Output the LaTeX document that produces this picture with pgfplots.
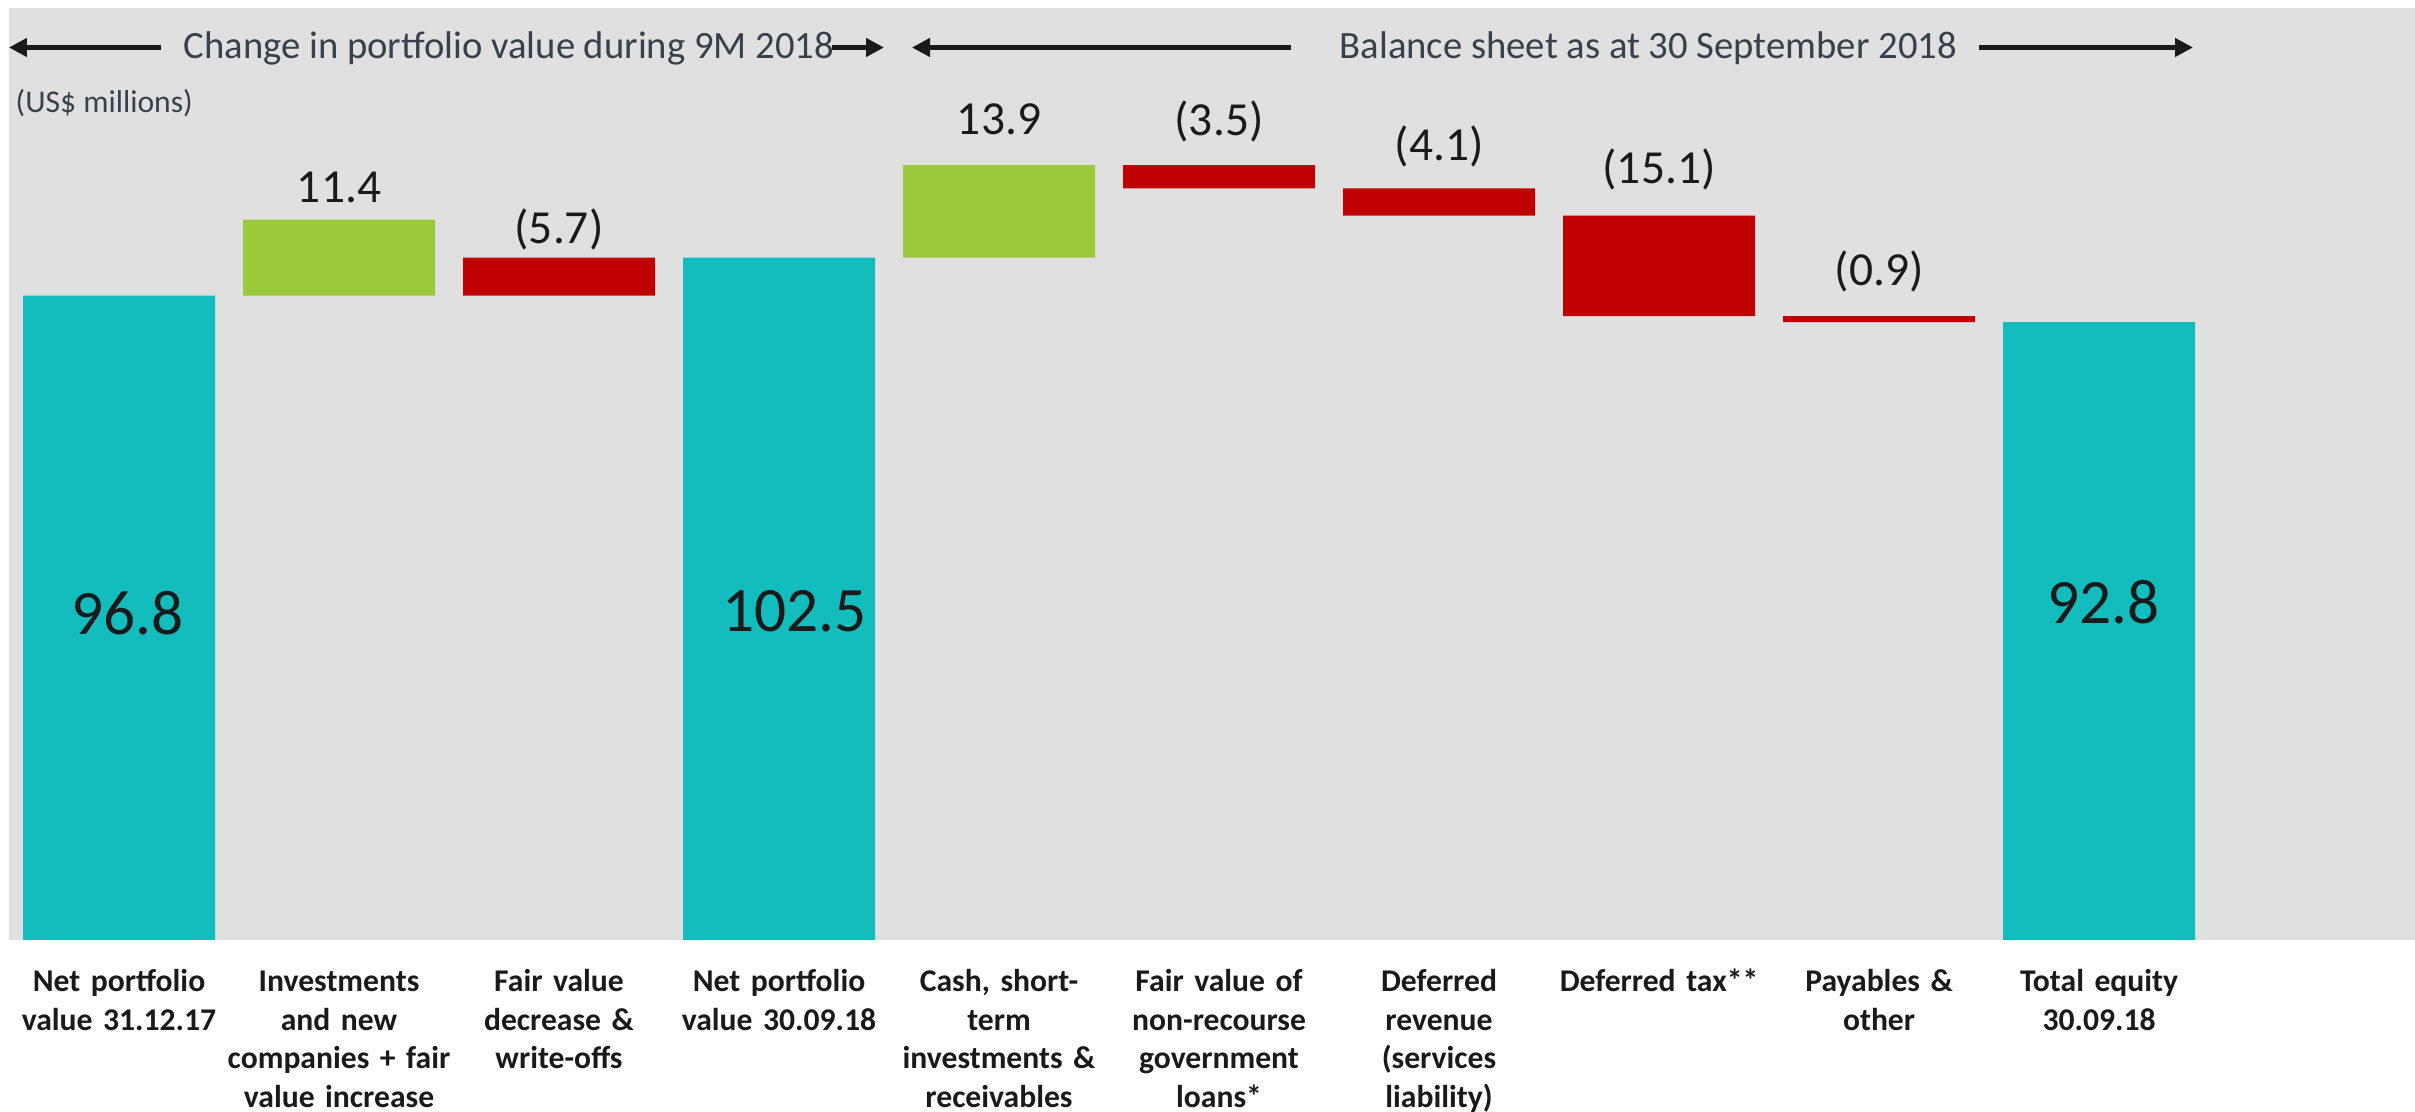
\documentclass[border=0pt]{standalone}
\usepackage{fontspec}
\setmainfont{Carlito}
\usepackage{pgfplots}
\pgfplotsset{compat=1.18}
\usepackage{pgfplotstable}
\usetikzlibrary{arrows.meta}
\definecolor{bggray}{RGB}{224,224,224}
\definecolor{wfteal}{RGB}{19,188,189}
\definecolor{wfgreen}{RGB}{154,202,60}
\definecolor{wfred}{RGB}{192,0,0}
\definecolor{hdr}{RGB}{55,65,75}
\definecolor{txt}{RGB}{26,26,26}
\tikzset{
  vlab/.style={font=\fontsize{13.5}{16}\selectfont, text=txt},
  ilab/.style={font=\fontsize{18}{22}\selectfont, text=txt},
  hdrarrow/.style={line width=0.055cm, draw=txt, -{Triangle[length=0.18cm,width=0.18cm]}},
}

\pgfplotstableread{
x base total up down
0 0 96.8 0 0
1 96.8 0 11.4 0
2 96.8 0 0 5.7
3 0 102.5 0 0
4 102.5 0 13.9 0
5 112.9 0 0 3.5
6 108.8 0 0 4.1
7 93.7 0 0 15.1
8 92.8 0 0 0.9
9 0 92.8 0 0
}\wfdata

\begin{document}
\begin{tikzpicture}
\begin{axis}[
  at={(0.09cm,1.72cm)}, anchor=south west,
  scale only axis, width=24.06cm, height=9.32cm,
  xmin=-0.5, xmax=10.436, ymin=0, ymax=140,
  ybar stacked, bar width=1.92cm,
  axis line style={draw=none},
  axis background/.style={fill=bggray},
  ytick=\empty,
  xtick={0,1,2,3,4,5,6,7,8,9},
  major tick length=0pt,
  xticklabels={
    {Net portfolio\\value 31.12.17},
    {Investments\\and new\\companies + fair\\value increase},
    {Fair value\\decrease \&\\write-offs},
    {Net portfolio\\value 30.09.18},
    {Cash, short-\\term\\investments \&\\receivables},
    {Fair value of\\non-recourse\\government\\loans*},
    {Deferred\\revenue\\(services\\liability)},
    {Deferred tax**},
    {Payables \&\\other},
    {Total equity\\30.09.18}},
  xticklabel style={text width=3.5cm, align=center, anchor=base, yshift=-0.52cm,
    font=\bfseries\fontsize{9}{10.95}\selectfont, text=txt, inner sep=0pt},
  clip=false,
]
\addplot[draw=none, fill=none] table[x=x,y=base]{\wfdata};
\addplot[draw=none, fill=wfteal] table[x=x,y=total]{\wfdata};
\addplot[draw=none, fill=wfgreen] table[x=x,y=up]{\wfdata};
\addplot[draw=none, fill=wfred] table[x=x,y=down]{\wfdata};

\node[vlab] at (axis cs:1,113.0) {11.4};
\node[vlab] at (axis cs:2,106.7) {(5.7)};
\node[vlab] at (axis cs:4,123.3) {13.9};
\node[vlab] at (axis cs:5,123.0) {(3.5)};
\node[vlab] at (axis cs:6,119.2) {(4.1)};
\node[vlab] at (axis cs:7,115.8) {(15.1)};
\node[vlab] at (axis cs:8,100.5) {(0.9)};
\coordinate (i0) at (axis cs:0.04,49.1);
\coordinate (i3) at (axis cs:3.07,49.4);
\coordinate (i9) at (axis cs:9.02,50.75);
\end{axis}
\node[ilab] at (i0) {96.8};
\node[ilab] at (i3) {102.5};
\node[ilab] at (i9) {92.8};

\draw[hdrarrow] (1.61cm,10.645cm) -- (0.09cm,10.645cm);
\draw[hdrarrow] (8.32cm,10.645cm) -- (8.84cm,10.645cm);
\draw[hdrarrow] (12.91cm,10.645cm) -- (9.12cm,10.645cm);
\draw[hdrarrow] (19.79cm,10.645cm) -- (21.93cm,10.645cm);
\node[anchor=base west, inner sep=0pt, text=hdr, font=\fontsize{11}{13}\selectfont] at (1.83cm,10.53cm) {Change in portfolio value during 9M 2018};
\node[anchor=base west, inner sep=0pt, text=hdr, font=\fontsize{11}{13}\selectfont] at (13.39cm,10.53cm) {Balance sheet as at 30 September 2018};
\node[anchor=base west, inner sep=0pt, text=hdr, font=\fontsize{9}{11}\selectfont] at (0.15cm,9.99cm) {(US\$ millions)};

\pgfresetboundingbox
\path (0,0) rectangle (24.15cm,11.12cm);
\end{tikzpicture}
\end{document}
